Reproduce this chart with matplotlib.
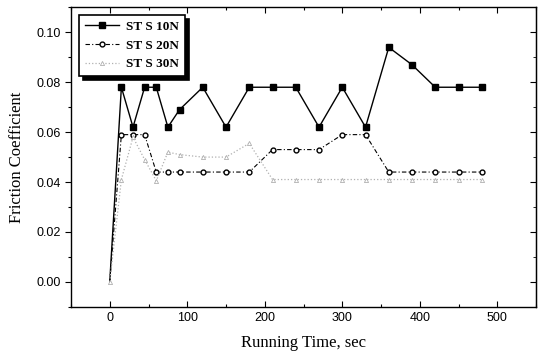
import matplotlib.pyplot as plt
from matplotlib.ticker import MultipleLocator

# Running time (sec) and friction coefficient for each load
time_sec = [0, 15, 30, 45, 60, 75, 90, 120, 150, 180, 210, 240, 270, 300, 330, 360, 390, 420, 450, 480]
sts_10n = [0.0, 0.078, 0.062, 0.078, 0.078, 0.062, 0.069, 0.078, 0.062, 0.078, 0.078, 0.078,
           0.062, 0.078, 0.062, 0.094, 0.087, 0.078, 0.078, 0.078]
sts_20n = [0.0, 0.059, 0.059, 0.059, 0.044, 0.044, 0.044, 0.044, 0.044, 0.044, 0.053, 0.053,
           0.053, 0.059, 0.059, 0.044, 0.044, 0.044, 0.044, 0.044]
sts_30n = [0.0, 0.041, 0.058, 0.049, 0.0405, 0.052, 0.051, 0.050, 0.050, 0.0555, 0.041, 0.041,
           0.041, 0.041, 0.041, 0.041, 0.041, 0.041, 0.041, 0.041]
labels = ['ST S 10N', 'ST S 20N', 'ST S 30N']

fig = plt.figure(figsize=(5.42, 3.53), dpi=100)
ax = fig.add_axes([0.131, 0.131, 0.858, 0.848])

# the start point at t=0 only shows the 30N marker
marks = list(range(1, len(time_sec)))
ax.plot(time_sec, sts_10n, '-s', color='black', lw=1.0, ms=4.5, mfc='black',
        markevery=marks, label=labels[0])
ax.plot(time_sec, sts_20n, '--o', color='black', lw=0.8, ms=3.5, mfc='white', mew=1.0,
        dashes=(4, 2, 1, 2), markevery=marks, label=labels[1])
ax.plot(time_sec, sts_30n, ':^', color='#b0b0b0', lw=0.9, ms=3, mfc='white', mew=0.6,
        label=labels[2])

ax.set_xlim(-50, 550)
ax.set_ylim(-0.01, 0.11)
ax.xaxis.set_major_locator(MultipleLocator(100))
ax.xaxis.set_minor_locator(MultipleLocator(50))
ax.yaxis.set_major_locator(MultipleLocator(0.02))
ax.yaxis.set_minor_locator(MultipleLocator(0.01))
ax.set_yticks([0.0, 0.02, 0.04, 0.06, 0.08, 0.10])
ax.set_yticklabels(['0.00', '0.02', '0.04', '0.06', '0.08', '0.10'])

ax.tick_params(axis='x', which='both', direction='in', top=True, bottom=True)
ax.tick_params(axis='y', which='both', direction='out', left=True, right=False)
ax.tick_params(which='major', length=4, width=0.8, labelsize=9)
ax.tick_params(which='minor', length=2.5, width=0.8)
for lab in ax.get_xticklabels() + ax.get_yticklabels():
    lab.set_fontfamily('Liberation Sans')

# right side ticks pointing in
ax2 = ax.secondary_yaxis('right')
ax2.yaxis.set_major_locator(MultipleLocator(0.02))
ax2.yaxis.set_minor_locator(MultipleLocator(0.01))
ax2.tick_params(which='both', direction='in', labelright=False)
ax2.tick_params(which='major', length=4)
ax2.tick_params(which='minor', length=2.5)

for sp in ax.spines.values():
    sp.set_linewidth(1.0)

ax.set_xlabel('Running Time, sec', family='Liberation Serif', fontsize=12, labelpad=8)
ax.set_ylabel('Friction Coefficient', family='Liberation Serif', fontsize=12, labelpad=8)

leg = ax.legend(loc='upper left', bbox_to_anchor=(0.012, 0.985), frameon=True, fancybox=False,
                edgecolor='black', borderpad=0.45, handlelength=2.6, handletextpad=0.5,
                labelspacing=0.5, borderaxespad=0.2,
                prop={'family': 'Liberation Serif', 'weight': 'bold', 'size': 9.5},
                shadow={'ox': 3, 'oy': -3, 'color': 'black', 'alpha': 1})
leg.get_frame().set_linewidth(1.2)

fig.savefig('out.png', dpi=100)
